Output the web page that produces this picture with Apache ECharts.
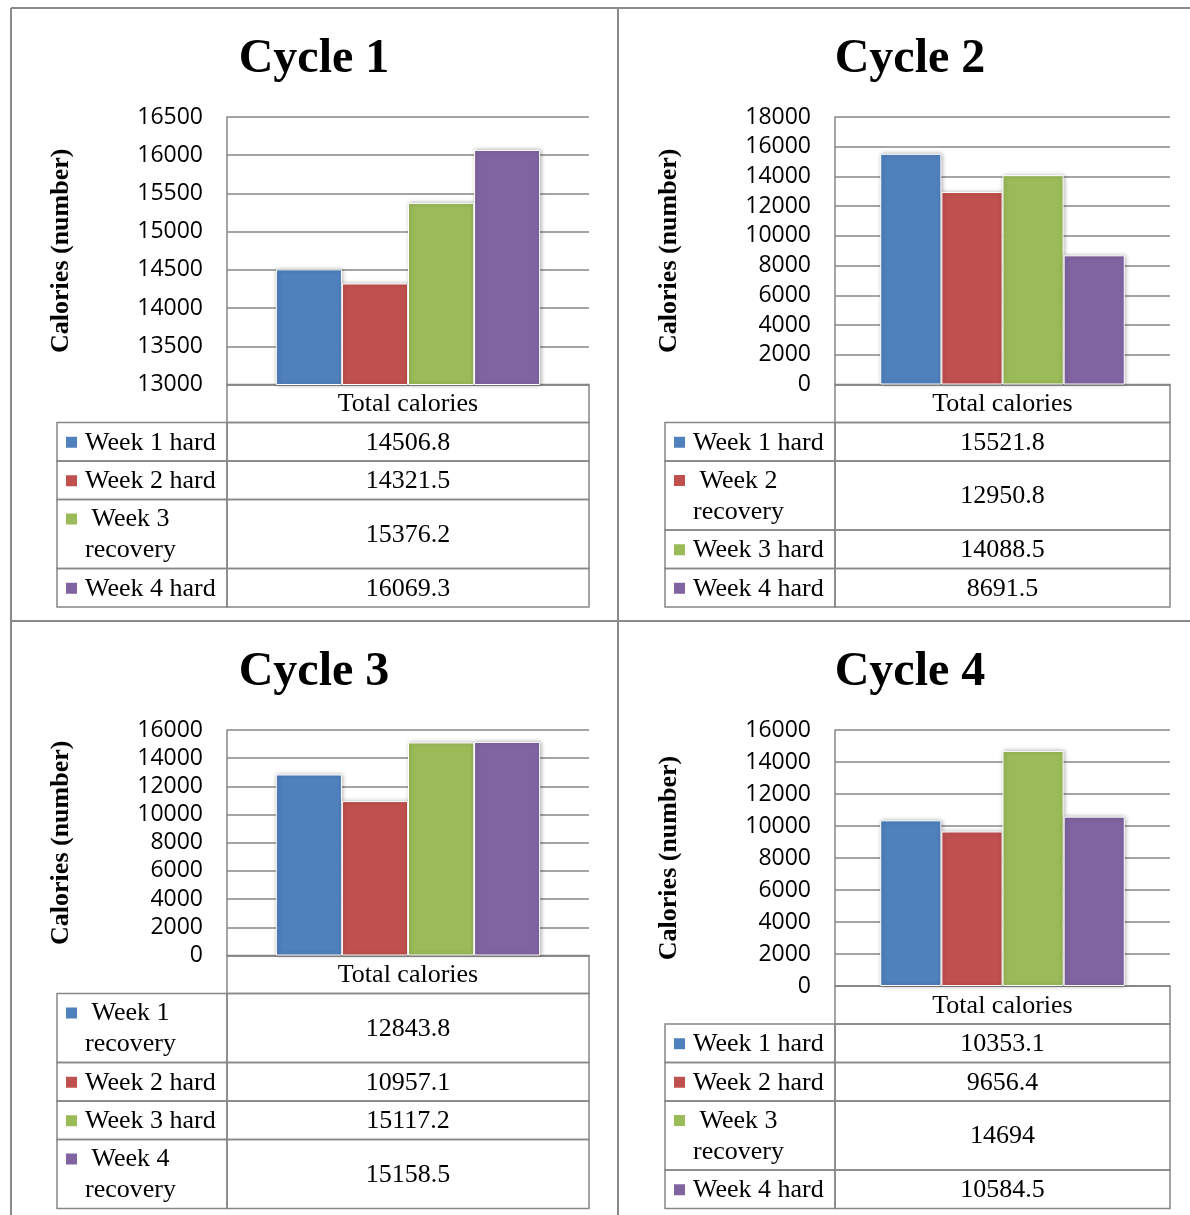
<!DOCTYPE html>
<html>
<head>
<meta charset="utf-8">
<script src="https://cdn.jsdelivr.net/npm/echarts@6/dist/echarts.min.js"></script>
<style>
  html, body { margin: 0; padding: 0; background: #fff; }
  #chart { width: 1190px; height: 1215px; }
</style>
</head>
<body>
<div id="chart"></div>
<script>
// ---- data ----
const categories = ['Total calories'];
const cycleTitles = ['Cycle 1', 'Cycle 2', 'Cycle 3', 'Cycle 4'];
const yAxisTitle = 'Calories (number)';

const cycle1Weeks = ['Week 1 hard', 'Week 2 hard', 'Week 3 recovery', 'Week 4 hard'];
const cycle1Values = [14506.8, 14321.5, 15376.2, 16069.3];

const cycle2Weeks = ['Week 1 hard', 'Week 2 recovery', 'Week 3 hard', 'Week 4 hard'];
const cycle2Values = [15521.8, 12950.8, 14088.5, 8691.5];

const cycle3Weeks = ['Week 1 recovery', 'Week 2 hard', 'Week 3 hard', 'Week 4 recovery'];
const cycle3Values = [12843.8, 10957.1, 15117.2, 15158.5];

const cycle4Weeks = ['Week 1 hard', 'Week 2 hard', 'Week 3 recovery', 'Week 4 hard'];
const cycle4Values = [10353.1, 9656.4, 14694, 10584.5];

// value-axis ranges (tick labels run from min to max by step)
const yMin = [13000, 0, 0, 0];
const yMax = [16500, 18000, 16000, 16000];
const yStep = [500, 2000, 2000, 2000];

// ---- styling / layout ----
const weekColors = ['#4F81BD', '#C0504D', '#9BBB59', '#8064A2'];
const GRID_GRAY = '#878787';
const FRAME_GRAY = '#8a8a8a';
const SERIF = '"Liberation Serif", "Times New Roman", serif';
const SANS = '"Open Sans", "Noto Sans", sans-serif';

const cycles = [
  { weeks: cycle1Weeks, values: cycle1Values },
  { weeks: cycle2Weeks, values: cycle2Values },
  { weeks: cycle3Weeks, values: cycle3Values },
  { weeks: cycle4Weeks, values: cycle4Values }
];

const panels = [
  { plotLeft: 227, plotRight: 589,  plotTop: 117, tableBottom: 607,    titleX: 314, titleY: 60 },
  { plotLeft: 835, plotRight: 1170, plotTop: 117, tableBottom: 607,    titleX: 910, titleY: 60 },
  { plotLeft: 227, plotRight: 589,  plotTop: 730, tableBottom: 1208.5, titleX: 314, titleY: 673 },
  { plotLeft: 835, plotRight: 1170, plotTop: 730, tableBottom: 1208.5, titleX: 910, titleY: 673 }
];

const LEGEND_COL_W = 170;
const HEADER_H = 38;
const ROW_H = 38.5;
const ROW2_H = 69;
const LINE_GAP = 31;
const TABLE_FONT = '26px ' + SERIF;

// wrap week names that do not fit the legend column
const measureCtx = document.createElement('canvas').getContext('2d');
measureCtx.font = TABLE_FONT;
function wrapName(name, maxW) {
  if (measureCtx.measureText(name).width <= maxW) return [name];
  const i = name.lastIndexOf(' ');
  return [' ' + name.slice(0, i), name.slice(i + 1)];
}

const grids = [], xAxes = [], yAxes = [], series = [], graphics = [];

// outer frame and panel dividers
[
  [11, 8, 1190, 8], [11, 8, 11, 1215], [618, 8, 618, 1215], [11, 621, 1190, 621]
].forEach(function (l) {
  graphics.push({ type: 'line', shape: { x1: l[0], y1: l[1], x2: l[2], y2: l[3] },
    style: { stroke: FRAME_GRAY, lineWidth: 2 }, z: 100 });
});

cycles.forEach(function (cyc, p) {
  const pan = panels[p];
  const rows = cyc.weeks.map(function (n) { return wrapName(n, LEGEND_COL_W - 30); });
  const rowHeights = rows.map(function (r) { return r.length > 1 ? ROW2_H : ROW_H; });
  const tableH = HEADER_H + rowHeights.reduce(function (a, b) { return a + b; }, 0);
  const plotBottom = pan.tableBottom - tableH;
  const plotW = pan.plotRight - pan.plotLeft;

  grids.push({ left: pan.plotLeft, top: pan.plotTop, width: plotW, height: plotBottom - pan.plotTop,
    containLabel: false, outerBoundsMode: 'none' });

  xAxes.push({
    gridIndex: p, type: 'category', data: categories,
    axisLine: { show: true, lineStyle: { color: GRID_GRAY, width: 1.5 } },
    axisTick: { show: false },
    axisLabel: { fontFamily: SERIF, fontSize: 26, color: '#000', margin: 20, verticalAlign: 'middle' },
    splitLine: { show: false }
  });

  yAxes.push({
    gridIndex: p, type: 'value', min: yMin[p], max: yMax[p], interval: yStep[p],
    name: yAxisTitle, nameLocation: 'middle', nameGap: 153,
    nameTextStyle: { fontFamily: SERIF, fontWeight: 'bold', fontSize: 26, color: '#000' },
    axisLine: { show: true, lineStyle: { color: GRID_GRAY, width: 1.5 } },
    axisTick: { show: false },
    axisLabel: { fontFamily: SANS, fontSize: 23, color: '#000', margin: 24,
      formatter: function (v) { return String(v); } },
    splitLine: { show: true, lineStyle: { color: GRID_GRAY, width: 1.5 } }
  });

  cyc.weeks.forEach(function (wk, w) {
    series.push({
      type: 'bar', name: wk, xAxisIndex: p, yAxisIndex: p,
      data: [cyc.values[w]],
      barGap: '0%', barCategoryGap: '27%',
      itemStyle: { color: weekColors[w], borderColor: '#fff', borderWidth: 1,
        shadowBlur: 4, shadowColor: 'rgba(0,0,0,0.3)', shadowOffsetX: 1, shadowOffsetY: 0 }
    });
  });

  // title
  graphics.push({ type: 'text', x: pan.titleX, y: pan.titleY,
    style: { text: cycleTitles[p], font: 'bold 48px ' + SERIF, fill: '#000',
      textAlign: 'center', textVerticalAlign: 'middle' } });

  // data table: header cell
  const cellStyle = { fill: 'none', stroke: GRID_GRAY, lineWidth: 1.5 };
  graphics.push({ type: 'rect', shape: { x: pan.plotLeft, y: plotBottom, width: plotW, height: HEADER_H },
    style: cellStyle });

  // data table: one row per week
  const colLeft = pan.plotLeft - LEGEND_COL_W;
  let y = plotBottom + HEADER_H;
  rows.forEach(function (lines, w) {
    const h = rowHeights[w];
    const cy = y + h / 2 + 1;
    graphics.push({ type: 'rect', shape: { x: colLeft, y: y, width: LEGEND_COL_W, height: h }, style: cellStyle });
    graphics.push({ type: 'rect', shape: { x: pan.plotLeft, y: y, width: plotW, height: h }, style: cellStyle });
    const firstY = cy - (lines.length - 1) * LINE_GAP / 2;
    graphics.push({ type: 'rect', shape: { x: colLeft + 9, y: firstY - 6, width: 11, height: 11 },
      style: { fill: weekColors[w] } });
    lines.forEach(function (ln, k) {
      graphics.push({ type: 'text', x: colLeft + 28, y: firstY + k * LINE_GAP,
        style: { text: ln, font: TABLE_FONT, fill: '#000', textAlign: 'left', textVerticalAlign: 'middle' } });
    });
    graphics.push({ type: 'text', x: pan.plotLeft + plotW / 2, y: cy,
      style: { text: String(cyc.values[w]), font: TABLE_FONT, fill: '#000',
        textAlign: 'center', textVerticalAlign: 'middle' } });
    y += h;
  });
});

const chart = echarts.init(document.getElementById('chart'), null, { renderer: 'canvas' });
chart.setOption({
  animation: false,
  backgroundColor: '#fff',
  grid: grids,
  xAxis: xAxes,
  yAxis: yAxes,
  series: series,
  graphic: { elements: graphics }
});
</script>
</body>
</html>
